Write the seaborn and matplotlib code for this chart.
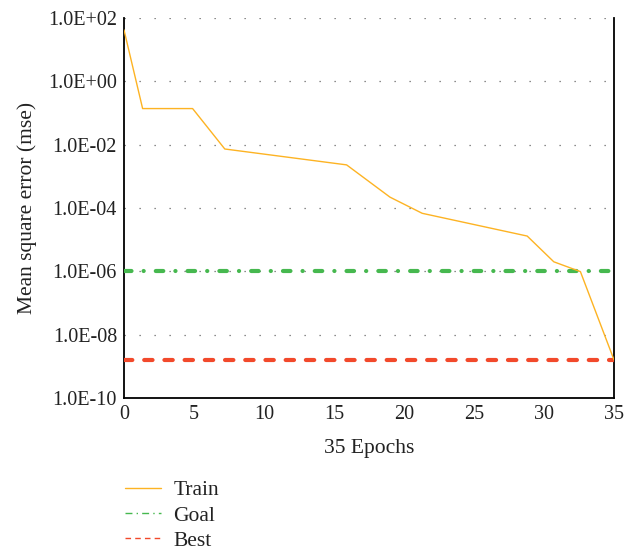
import matplotlib
matplotlib.use("Agg")
import matplotlib.pyplot as plt
import matplotlib.ticker as mticker
from matplotlib.lines import Line2D
import seaborn as sns
import pandas as pd
import numpy as np

# Data
train_epochs = [0, 1.33, 4.9, 7.2, 15.9, 19.0, 21.3, 28.8, 30.7, 32.6, 35.0]
train_mse = [42, 0.138, 0.138, 0.0073, 0.0023, 2.2e-4, 6.8e-5, 1.3e-5, 2.0e-6, 9.8e-7, 1.6e-9]
goal_value = 1e-6
best_value = 1.6e-9
epoch_range = [0, 35]
y_ticks = [1e-10, 1e-8, 1e-6, 1e-4, 1e-2, 1e0, 1e2]
x_ticks = [0, 5, 10, 15, 20, 25, 30, 35]
series_labels = ["Train", "Goal", "Best"]
x_label = "35 Epochs"
y_label = "Mean square error (mse)"

ORANGE = "#FDB323"
GREEN = "#46B84F"
RED = "#F2492B"
TXT = "#222222"

sns.set_theme(style="white")
plt.rcParams["font.family"] = ["Liberation Serif", "DejaVu Serif"]

fig = plt.figure(figsize=(6.24, 5.51), dpi=100)
ax = fig.add_axes([124 / 624, 1 - 398 / 551, (614 - 124) / 624, (398 - 18) / 551])

train_df = pd.DataFrame({"epoch": train_epochs, "mse": train_mse})
goal_df = pd.DataFrame({"epoch": epoch_range, "mse": [goal_value] * 2})
best_df = pd.DataFrame({"epoch": epoch_range, "mse": [best_value] * 2})

sns.lineplot(data=goal_df, x="epoch", y="mse", ax=ax, color=GREEN, lw=3.0,
             linestyle=(0, (1.8, 2.9, 0.03, 2.9)), dash_capstyle="round", zorder=3)
sns.lineplot(data=best_df, x="epoch", y="mse", ax=ax, color=RED, lw=3.0,
             linestyle=(0, (2.0, 2.85)), dash_capstyle="round", zorder=3)
sns.lineplot(data=train_df, x="epoch", y="mse", ax=ax, color=ORANGE, lw=1.0, zorder=4)

ax.set_yscale("log")
ax.set_ylim(1e-10, 1e2)
ax.set_xlim(0, 35)
ax.set_yticks(y_ticks)
ax.yaxis.set_minor_locator(mticker.NullLocator())
ax.set_yticklabels(["1.0E" + ("+" if np.log10(v) >= 0 else "-") + "%02d" % abs(int(round(np.log10(v)))) for v in y_ticks])
ax.set_xticks(x_ticks)
ax.tick_params(axis="both", labelsize=14.5, length=0, colors=TXT)
ax.tick_params(axis="y", pad=5)
ax.tick_params(axis="x", pad=5)

for v in y_ticks[1:]:
    ax.axhline(v, color="#666666", lw=0.9, linestyle=(0, (1, 11)), zorder=1)

for s in ["left", "bottom", "right"]:
    ax.spines[s].set_visible(True)
    ax.spines[s].set_color("black")
    ax.spines[s].set_linewidth(1.3)
ax.spines["top"].set_visible(False)

ax.set_xlabel(x_label, fontsize=15.5, color=TXT, labelpad=11)
ax.set_ylabel(y_label, fontsize=15.5, color=TXT, labelpad=8)

handles = [
    Line2D([], [], color=ORANGE, lw=1.0),
    Line2D([], [], color=GREEN, lw=1.0, linestyle=(0, (5, 3, 1, 3))),
    Line2D([], [], color=RED, lw=1.0, linestyle=(0, (4, 3))),
]
fig.legend(handles, series_labels, loc="upper left", bbox_to_anchor=(125 / 624, 1 - 480 / 551),
           frameon=False, fontsize=15.5, handlelength=1.65, handletextpad=0.6, labelspacing=0.25,
           borderpad=0, borderaxespad=0, labelcolor=TXT)

fig.savefig("out.png", dpi=100)
